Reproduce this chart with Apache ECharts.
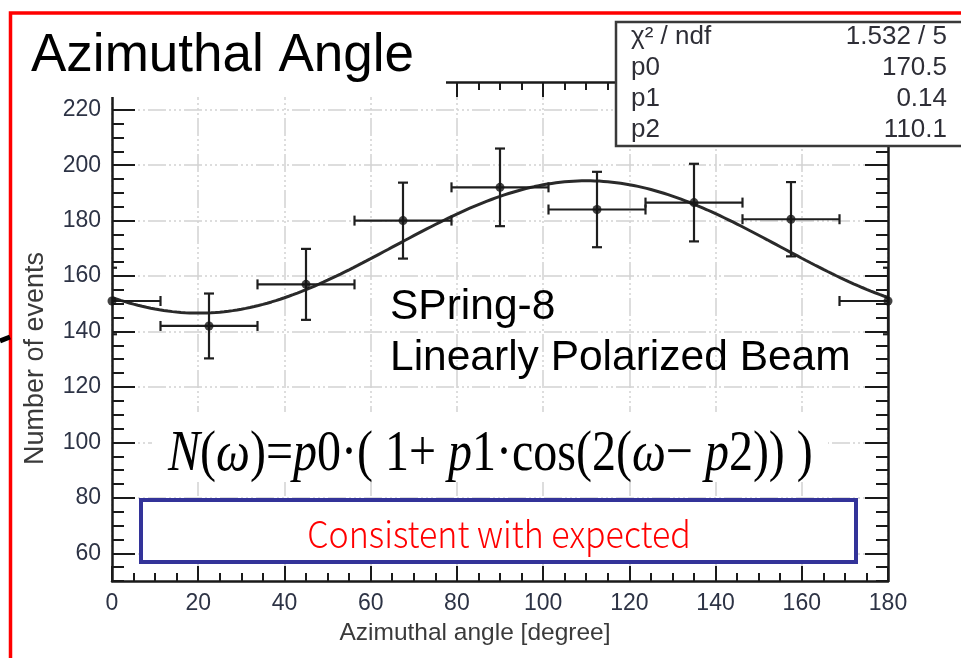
<!DOCTYPE html>
<html>
<head>
<meta charset="utf-8">
<script src="https://cdn.jsdelivr.net/npm/echarts@6/dist/echarts.min.js"></script>
<style>
html, body { margin: 0; padding: 0; background: #fff; }
#chart { width: 961px; height: 658px; }
</style>
</head>
<body>
<div id="chart"></div>
<script>
// Azimuthal distribution: bin centres (degrees), event counts and their errors
const angles = [0, 22.5, 45, 67.5, 90, 112.5, 135, 157.5, 180];
const counts = [151, 142, 157, 180, 192, 184, 186.5, 180.5, 151];
const errors = [12, 11.7, 12.8, 13.7, 14, 13.6, 14, 13.4, 12];
const binHalfWidth = 11.25;

// Fit of N(ω) = p0·(1 + p1·cos(2(ω − p2))) and its statistics box
const statNames = ['χ² / ndf', 'p0', 'p1', 'p2'];
const statValues = ['1.532 / 5', '170.5', '0.14', '110.1'];
const p0 = 170.5, p1 = 0.14, p2 = 110.1;

// Axis ticks
const xTickValues = [0, 20, 40, 60, 80, 100, 120, 140, 160, 180];
const yTickValues = [60, 80, 100, 120, 140, 160, 180, 200, 220];

// Fit curve evaluated every degree
const fitCurve = [];
for (let a = 0; a <= 180; a += 1) {
  fitCurve.push([a, p0 * (1 + p1 * Math.cos(2 * (a - p2) * Math.PI / 180))]);
}

const chart = echarts.init(document.getElementById('chart'), null, { renderer: 'canvas' });

const frameLine = { color: '#1a1a1a', width: 2.5 };
const tickLine = { color: '#1a1a1a', width: 2 };
const gridLine = { color: '#d2d2d2', width: 1.5, type: [18, 3, 2, 3, 2, 3, 2, 3] };
const tickFont = { fontFamily: 'Liberation Sans', fontSize: 23, color: '#2d3345' };

function renderErrorBar(params, api) {
  const x = api.value(0), y = api.value(1), e = api.value(2);
  const l = api.coord([x - binHalfWidth, y]);
  const r = api.coord([x + binHalfWidth, y]);
  const t = api.coord([x, y + e]);
  const b = api.coord([x, y - e]);
  const cap = 5;
  const style = { stroke: '#1e1e1e', lineWidth: 2.2 };
  const seg = (x1, y1, x2, y2) => ({ type: 'line', shape: { x1, y1, x2, y2 }, style });
  return {
    type: 'group',
    children: [
      seg(l[0], l[1], r[0], r[1]),
      seg(t[0], t[1], b[0], b[1]),
      seg(l[0], l[1] - cap, l[0], l[1] + cap),
      seg(r[0], r[1] - cap, r[0], r[1] + cap),
      seg(t[0] - cap, t[1], t[0] + cap, t[1]),
      seg(b[0] - cap, b[1], b[0] + cap, b[1])
    ]
  };
}

function xAxisDef(position, labelled) {
  return {
    type: 'value', position, min: 0, max: 180, interval: 20,
    axisLine: { show: true, onZero: false, lineStyle: frameLine },
    axisTick: { show: true, inside: true, length: 15, lineStyle: tickLine },
    minorTick: { show: true, splitNumber: 4, length: 8, lineStyle: tickLine },
    axisLabel: labelled ? Object.assign({ show: true, margin: 11, customValues: xTickValues }, tickFont) : { show: false },
    splitLine: { show: labelled, lineStyle: gridLine },
    name: labelled ? 'Azimuthal angle [degree]' : '',
    nameLocation: 'middle', nameGap: 40,
    nameTextStyle: { fontFamily: 'Liberation Sans', fontSize: 24.5, color: '#3a3a3a', padding: [0, 50, 0, 0] }
  };
}

function yMajorAxis(position, labelled) {
  return {
    type: 'value', position, min: 50, max: 230, interval: 10,
    axisLine: { show: true, onZero: false, lineStyle: frameLine },
    axisTick: { show: true, inside: true, length: 23, lineStyle: tickLine, customValues: yTickValues },
    axisLabel: labelled ? Object.assign({ show: true, margin: 11, customValues: yTickValues }, tickFont) : { show: false },
    splitLine: { show: labelled, lineStyle: gridLine },
    name: labelled ? 'Number of events' : '',
    nameLocation: 'middle', nameGap: 63, nameRotate: 90,
    nameTextStyle: { fontFamily: 'Liberation Sans', fontSize: 27, color: '#3a3a3a', padding: [0, 54, 0, 0] }
  };
}

function yMinorAxis(position) {
  return {
    type: 'value', position, min: 50, max: 230, interval: 5,
    axisLine: { show: false, onZero: false },
    axisTick: { show: true, inside: true, length: 12, lineStyle: tickLine },
    axisLabel: { show: false },
    splitLine: { show: false }
  };
}

const option = {
  backgroundColor: '#ffffff',
  animation: false,
  grid: { left: 112, right: 73, top: 82, bottom: 77, containLabel: false },
  xAxis: [xAxisDef('bottom', true), xAxisDef('top', false)],
  yAxis: [yMajorAxis('left', true), yMinorAxis('left'), yMajorAxis('right', false), yMinorAxis('right')],
  series: [
    {
      type: 'line', name: 'fit', xAxisIndex: 0, yAxisIndex: 0,
      data: fitCurve, showSymbol: false, smooth: false, silent: true, z: 3,
      lineStyle: { color: '#2a2a2a', width: 3 }
    },
    {
      type: 'custom', name: 'errors', xAxisIndex: 0, yAxisIndex: 0, clip: true, z: 4,
      data: angles.map((a, i) => [a, counts[i], errors[i]]),
      renderItem: renderErrorBar
    },
    {
      type: 'scatter', name: 'events', xAxisIndex: 0, yAxisIndex: 0, z: 5,
      data: angles.map((a, i) => [a, counts[i]]),
      symbol: 'circle', symbolSize: 9, itemStyle: { color: '#141414' }
    }
  ],
  graphic: [
    // headline with its white backing
    { type: 'rect', z: 10, shape: { x: 12, y: 15, width: 434, height: 82 }, style: { fill: '#ffffff' } },
    { type: 'text', z: 11, x: 31, y: 56,
      style: { text: 'Azimuthal Angle', fontFamily: 'Liberation Sans', fontSize: 53, fill: '#000', verticalAlign: 'middle' } },
    // statistics box
    { type: 'rect', z: 10, shape: { x: 616, y: 22, width: 400, height: 124 },
      style: { fill: '#ffffff', stroke: '#3a3a3a', lineWidth: 2.5 } },
    ...statNames.map((n, i) => ({
      type: 'text', z: 11, x: 631, y: 37 + i * 31,
      style: { text: n, fontFamily: 'Liberation Sans', fontSize: 26, fill: '#2e2e36', verticalAlign: 'middle' }
    })),
    ...statValues.map((v, i) => ({
      type: 'text', z: 11, x: 947, y: 37 + i * 31,
      style: { text: v, fontFamily: 'Liberation Sans', fontSize: 26, fill: '#2e2e36', align: 'right', verticalAlign: 'middle' }
    })),
    // beam annotation
    { type: 'text', z: 11, x: 390, y: 307,
      style: { text: 'SPring-8', fontFamily: 'Liberation Sans', fontSize: 42.5, fill: '#000', verticalAlign: 'middle' } },
    { type: 'text', z: 11, x: 390, y: 358,
      style: { text: 'Linearly Polarized Beam', fontFamily: 'Liberation Sans', fontSize: 42.5, fill: '#000', verticalAlign: 'middle' } },
    // fit function
    { type: 'rect', z: 10, shape: { x: 152, y: 412, width: 676, height: 70 }, style: { fill: '#ffffff' } },
    { type: 'text', z: 11, x: 168, y: 455, scaleY: 1.2,
      style: {
        text: '{i|N}{r|(}{i|ω}{r|)=}{i|p}{r|0·( 1+ }{i|p}{r|1·cos(2(}{i|ω}{r|− }{i|p}{r|2)) )}',
        verticalAlign: 'middle', fill: '#000',
        rich: {
          i: { fontFamily: 'Liberation Serif', fontStyle: 'italic', fontSize: 48, fill: '#000' },
          r: { fontFamily: 'Liberation Serif', fontSize: 48, fill: '#000' }
        }
      } },
    // conclusion box
    { type: 'rect', z: 10, shape: { x: 141, y: 500, width: 715, height: 62 },
      style: { fill: '#ffffff', stroke: '#333399', lineWidth: 4 } },
    { type: 'text', z: 11, x: 499, y: 534, scaleY: 1.08,
      style: { text: 'Consistent with expected', fontFamily: 'Noto Sans CJK JP', fontWeight: 300, fontSize: 34, fill: '#ff0000',
        align: 'center', verticalAlign: 'middle' } },
    // outer red frame and pointer stub
    { type: 'rect', z: 20, shape: { x: 10.5, y: 13, width: 1000, height: 700 },
      style: { fill: 'none', stroke: '#ff0000', lineWidth: 3.5 } },
    { type: 'line', z: 20, shape: { x1: 0, y1: 341, x2: 10, y2: 337 },
      style: { stroke: '#000', lineWidth: 5 } }
  ]
};

chart.setOption(option);
</script>
</body>
</html>
